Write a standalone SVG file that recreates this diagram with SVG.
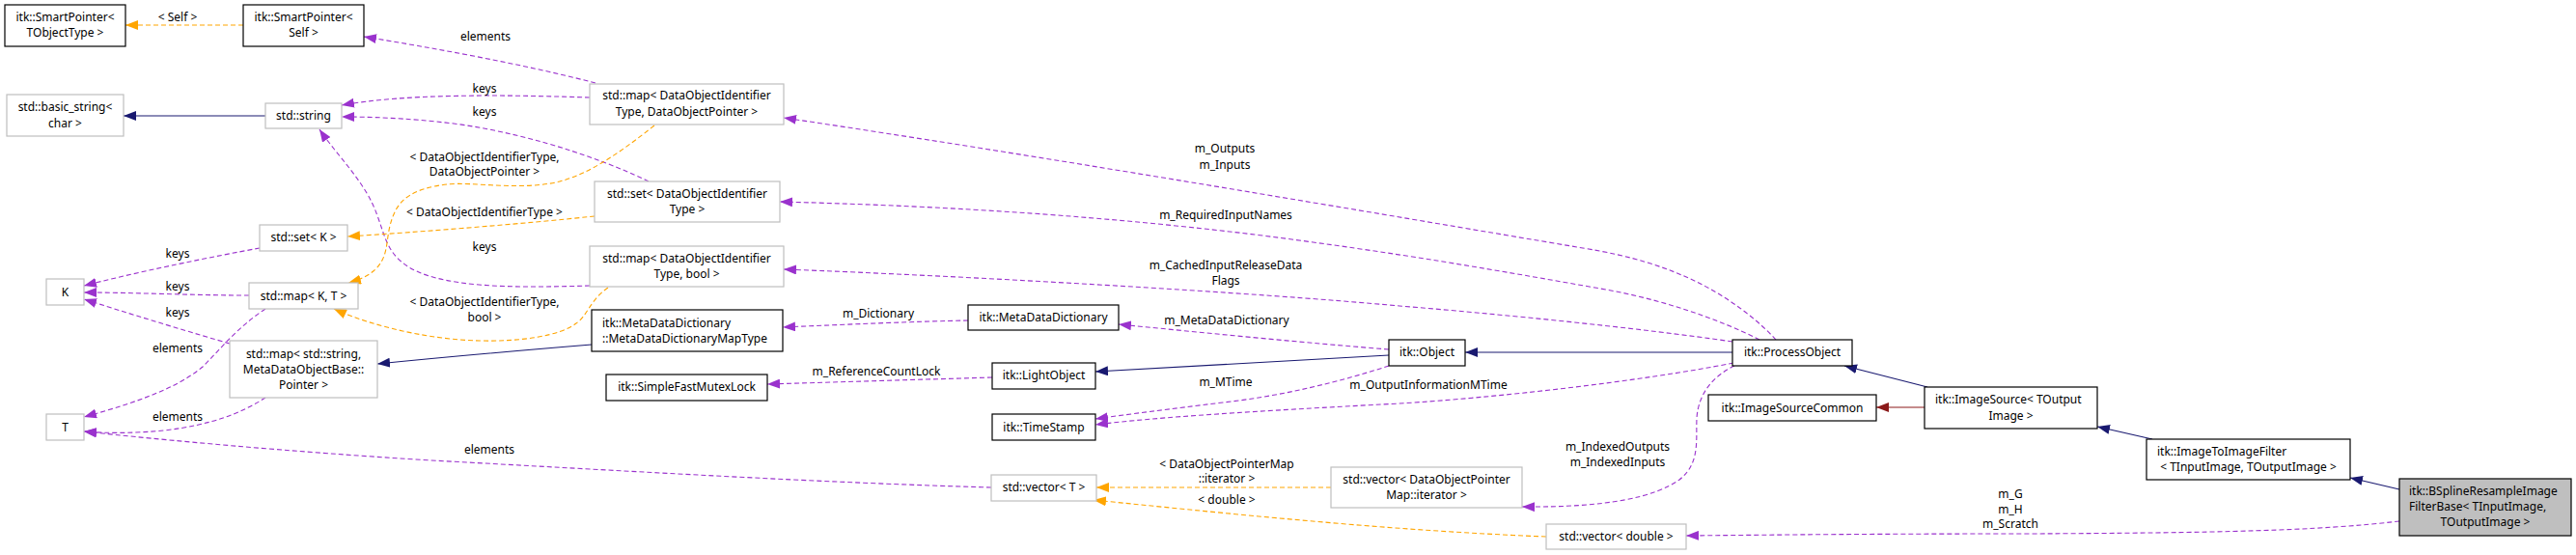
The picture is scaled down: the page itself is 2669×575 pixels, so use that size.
<svg xmlns="http://www.w3.org/2000/svg" width="2669" height="575" viewBox="0 0 2669 575">
<style>
text{font-family:"Noto Sans","DejaVu Sans",sans-serif;font-size:12px;fill:#000}
.c{text-anchor:middle}
.n rect{fill:#fff;stroke:#000;stroke-width:1.2}
.g rect{fill:#fff;stroke:#bfbfbf;stroke-width:1.2}
.e path{fill:none;stroke-width:1.1}
.p{stroke:#9a32cd;stroke-dasharray:5,3;marker-end:url(#mp)}
.o{stroke:#ffa500;stroke-dasharray:5,3;marker-end:url(#mo)}
.b{stroke:#191970;marker-end:url(#mb)}
.r{stroke:#8b1a1a;marker-end:url(#mr)}
</style>
<defs>
<marker id="mp" viewBox="0 0 13 10" refX="13" refY="5" markerWidth="13" markerHeight="10" markerUnits="userSpaceOnUse" orient="auto"><path d="M0,0L13,5L0,10z" fill="#9a32cd"/></marker>
<marker id="mo" viewBox="0 0 13 10" refX="13" refY="5" markerWidth="13" markerHeight="10" markerUnits="userSpaceOnUse" orient="auto"><path d="M0,0L13,5L0,10z" fill="#ffa500"/></marker>
<marker id="mb" viewBox="0 0 13 10" refX="13" refY="5" markerWidth="13" markerHeight="10" markerUnits="userSpaceOnUse" orient="auto"><path d="M0,0L13,5L0,10z" fill="#191970"/></marker>
<marker id="mr" viewBox="0 0 13 10" refX="13" refY="5" markerWidth="13" markerHeight="10" markerUnits="userSpaceOnUse" orient="auto"><path d="M0,0L13,5L0,10z" fill="#8b1a1a"/></marker>
</defs>
<rect width="2669" height="575" fill="#fff"/>
<g id="connectors" class="e">
<path class="o" d="M252,26 L130,26"/>
<text class="c" x="184" y="22">&lt; Self &gt;</text>
<path class="b" d="M275,120 L128,120"/>
<path class="b" d="M613,357 C540,363 460,370 391,377"/>
<path class="p" d="M617,86 C540,66 450,50 377,38"/>
<text class="c" x="503" y="42">elements</text>
<path class="p" d="M611,101 C520,98 420,97 354,109"/>
<text class="c" x="502" y="96">keys</text>
<path class="p" d="M672,188 C640,172 560,140 470,128 C420,122 380,121 354,121"/>
<text class="c" x="502" y="120">keys</text>
<path class="p" d="M611,296 C540,298 450,300 417,272 C395,255 398,230 380,200 C365,175 345,155 331,134"/>
<text class="c" x="502" y="260">keys</text>
<path class="o" d="M678,130 C640,160 610,180 580,188 C540,198 490,188 463,191 C430,195 415,205 408,222 C398,245 405,262 390,278 C382,286 372,290 361,293"/>
<text class="c" x="502" y="167">&lt; DataObjectIdentifierType,</text>
<text class="c" x="502" y="182">DataObjectPointer &gt;</text>
<path class="o" d="M616,224 C540,232 440,240 360,245"/>
<text class="c" x="502" y="224">&lt; DataObjectIdentifierType &gt;</text>
<path class="o" d="M630,298 C612,310 608,328 597,335 C580,348 540,354 497,353 C450,352 390,340 346,320"/>
<text class="c" x="502" y="317">&lt; DataObjectIdentifierType,</text>
<text class="c" x="502" y="333">bool &gt;</text>
<path class="p" d="M269,257 C220,266 150,280 87,296"/>
<text class="c" x="184" y="267">keys</text>
<path class="p" d="M258,306 C200,306 140,303 87,303"/>
<text class="c" x="184" y="301">keys</text>
<path class="p" d="M238,356 C200,345 150,330 87,310"/>
<text class="c" x="184" y="328">keys</text>
<path class="p" d="M275,320 C245,340 230,360 210,380 C180,405 130,420 87,432"/>
<text class="c" x="184" y="365">elements</text>
<path class="p" d="M275,412 C250,428 220,440 170,446 C140,449 110,449 87,447"/>
<text class="c" x="184" y="436">elements</text>
<path class="p" d="M1027,505 C850,500 650,488 447,477 C300,468 170,456 87,447"/>
<text class="c" x="507" y="470">elements</text>
<path class="p" d="M1003,332 C950,333 880,336 811,339"/>
<text class="c" x="910" y="329">m_Dictionary</text>
<path class="p" d="M1028,391 L795,398"/>
<text class="c" x="908" y="389">m_ReferenceCountLock</text>
<path class="b" d="M1439,368 L1135,385"/>
<path class="p" d="M1439,362 C1350,355 1250,345 1159,336"/>
<text class="c" x="1271" y="336">m_MetaDataDictionary</text>
<path class="p" d="M1439,379 C1390,395 1330,410 1267,417 C1210,424 1170,429 1135,434"/>
<text class="c" x="1270" y="400">m_MTime</text>
<path class="p" d="M1796,376 C1700,395 1550,412 1450,418 C1300,426 1200,432 1135,440"/>
<text class="c" x="1480" y="403">m_OutputInformationMTime</text>
<path class="b" d="M1795,365 L1518,365"/>
<path class="p" d="M1840,352 C1820,330 1790,308 1760,293 C1725,276 1690,265 1640,257 C1420,220 1100,165 812,122"/>
<text class="c" x="1269" y="158">m_Outputs</text>
<text class="c" x="1269" y="175">m_Inputs</text>
<path class="p" d="M1823,352 C1780,330 1720,310 1664,300 C1550,280 1450,262 1300,243 C1150,225 1000,214 808,209"/>
<text class="c" x="1270" y="227">m_RequiredInputNames</text>
<path class="p" d="M1795,354 C1700,340 1550,325 1450,317 C1300,303 1000,286 812,279"/>
<text class="c" x="1270" y="279">m_CachedInputReleaseData</text>
<text class="c" x="1270" y="295">Flags</text>
<path class="p" d="M1797,379 C1778,388 1760,405 1758,433 C1757,455 1762,480 1740,497 C1715,515 1665,526 1577,525"/>
<text class="c" x="1676" y="467">m_IndexedOutputs</text>
<text class="c" x="1676" y="483">m_IndexedInputs</text>
<path class="b" d="M1997,401 L1911,379"/>
<path class="r" d="M1994,422 L1944,422"/>
<path class="b" d="M2230,455 L2173,442"/>
<path class="b" d="M2486,507 L2435,495"/>
<path class="p" d="M2486,540 C2400,550 2300,552 2100,553 C1950,553 1850,554 1747,555"/>
<text class="c" x="2083" y="516">m_G</text>
<text class="c" x="2083" y="532">m_H</text>
<text class="c" x="2083" y="547">m_Scratch</text>
<path class="o" d="M1379,505 L1136,505"/>
<text class="c" x="1271" y="485">&lt; DataObjectPointerMap</text>
<text class="c" x="1271" y="500">::iterator &gt;</text>
<path class="o" d="M1602,556 C1450,550 1300,535 1133,518"/>
<text class="c" x="1271" y="522">&lt; double &gt;</text>
</g>
<g id="sp_tobject" class="n"><rect x="5" y="5" width="125" height="43"/><text class="c" x="67.5" y="22">itk::SmartPointer&lt;</text><text class="c" x="67.5" y="38">TObjectType &gt;</text></g>
<g id="sp_self" class="n"><rect x="252" y="5" width="125" height="43"/><text class="c" x="314.5" y="22">itk::SmartPointer&lt;</text><text class="c" x="314.5" y="38">Self &gt;</text></g>
<g id="basic_string" class="g"><rect x="7" y="98" width="121" height="43"/><text class="c" x="67.5" y="115">std::basic_string&lt;</text><text class="c" x="67.5" y="132">char &gt;</text></g>
<g id="std_string" class="g"><rect x="275" y="107" width="79" height="26"/><text class="c" x="314.5" y="124">std::string</text></g>
<g id="set_k" class="g"><rect x="269" y="233" width="91" height="27"/><text class="c" x="314.5" y="250">std::set&lt; K &gt;</text></g>
<g id="k" class="g"><rect x="48" y="289" width="39" height="27"/><text class="c" x="67.5" y="307">K</text></g>
<g id="map_kt" class="g"><rect x="258" y="293" width="113" height="27"/><text class="c" x="314.5" y="311">std::map&lt; K, T &gt;</text></g>
<g id="map_string_mdob" class="g"><rect x="238" y="353" width="153" height="59"/><text class="c" x="314.5" y="371">std::map&lt; std::string,</text><text class="c" x="314.5" y="387">MetaDataObjectBase::</text><text class="c" x="314.5" y="403">Pointer &gt;</text></g>
<g id="t" class="g"><rect x="48" y="429" width="39" height="27"/><text class="c" x="67.5" y="447">T</text></g>
<g id="map_doi_dop" class="g"><rect x="611" y="87" width="201" height="42"/><text class="c" x="711.5" y="103">std::map&lt; DataObjectIdentifier</text><text class="c" x="711.5" y="120">Type, DataObjectPointer &gt;</text></g>
<g id="set_doi" class="g"><rect x="616" y="188" width="192" height="42"/><text class="c" x="712" y="205">std::set&lt; DataObjectIdentifier</text><text class="c" x="712" y="221">Type &gt;</text></g>
<g id="map_doi_bool" class="g"><rect x="611" y="255" width="201" height="42"/><text class="c" x="711.5" y="272">std::map&lt; DataObjectIdentifier</text><text class="c" x="711.5" y="288">Type, bool &gt;</text></g>
<g id="mdd_maptype" class="n"><rect x="613" y="321" width="198" height="43"/><text x="624" y="339">itk::MetaDataDictionary</text><text x="624" y="355">::MetaDataDictionaryMapType</text></g>
<g id="mutexlock" class="n"><rect x="628" y="388" width="167" height="27"/><text class="c" x="711.5" y="405">itk::SimpleFastMutexLock</text></g>
<g id="mdd" class="n"><rect x="1003" y="316" width="156" height="26"/><text class="c" x="1081" y="333">itk::MetaDataDictionary</text></g>
<g id="lightobject" class="n"><rect x="1028" y="376" width="107" height="27"/><text class="c" x="1081.5" y="393">itk::LightObject</text></g>
<g id="timestamp" class="n"><rect x="1028" y="429" width="107" height="27"/><text class="c" x="1081.5" y="447">itk::TimeStamp</text></g>
<g id="vector_t" class="g"><rect x="1027" y="492" width="109" height="27"/><text class="c" x="1081.5" y="509">std::vector&lt; T &gt;</text></g>
<g id="vector_dopmap" class="g"><rect x="1379" y="484" width="198" height="42"/><text class="c" x="1478" y="501">std::vector&lt; DataObjectPointer</text><text class="c" x="1478" y="517">Map::iterator &gt;</text></g>
<g id="object" class="n"><rect x="1439" y="352" width="79" height="27"/><text class="c" x="1478.5" y="369">itk::Object</text></g>
<g id="processobject" class="n"><rect x="1795" y="352" width="124" height="27"/><text class="c" x="1857" y="369">itk::ProcessObject</text></g>
<g id="imagesourcecommon" class="n"><rect x="1770" y="409" width="174" height="27"/><text class="c" x="1857" y="427">itk::ImageSourceCommon</text></g>
<g id="vector_double" class="g"><rect x="1602" y="543" width="145" height="26"/><text class="c" x="1674.5" y="560">std::vector&lt; double &gt;</text></g>
<g id="imagesource" class="n"><rect x="1994" y="401" width="179" height="43"/><text x="2005" y="418">itk::ImageSource&lt; TOutput</text><text class="c" x="2083.5" y="435">Image &gt;</text></g>
<g id="imagetoimagefilter" class="n"><rect x="2224" y="455" width="211" height="42"/><text x="2235" y="472">itk::ImageToImageFilter</text><text class="c" x="2329.5" y="488">&lt; TInputImage, TOutputImage &gt;</text></g>
<g id="bspline" class="n"><rect x="2486" y="496" width="178" height="59" style="fill:#bfbfbf"/><text x="2496" y="513">itk::BSplineResampleImage</text><text x="2496" y="529">FilterBase&lt; TInputImage,</text><text class="c" x="2575" y="545">TOutputImage &gt;</text></g>
</svg>
